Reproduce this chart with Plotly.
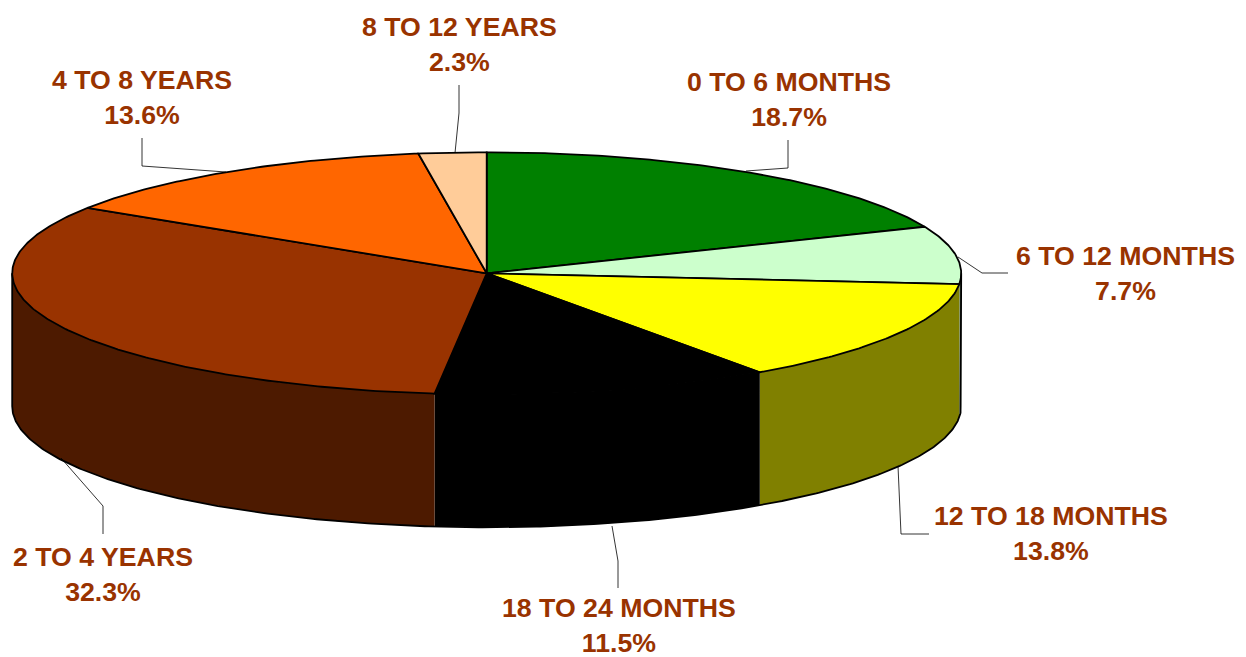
import math
import plotly.graph_objects as go

CATEGORIES = ["0 TO 6 MONTHS", "6 TO 12 MONTHS", "12 TO 18 MONTHS", "18 TO 24 MONTHS",
              "2 TO 4 YEARS", "4 TO 8 YEARS", "8 TO 12 YEARS"]
VALUES = [18.7, 7.7, 13.8, 11.5, 32.3, 13.6, 2.3]
TOP_COLORS = ["#008000", "#CCFFCC", "#FFFF00", "#000000", "#993300", "#FF6600", "#FFCC99"]
SIDE_COLORS = ["#004000", "#668066", "#808000", "#000000", "#4D1A00", "#803300", "#806633"]
LABEL_POS = [(789, 99.5), (1125.5, 273), (1051, 533), (619, 625), (102.5, 574.5), (142, 97), (459, 44)]
LEADERS = [
    [(746, 171), (788, 168), (788, 140)],
    [(958, 257), (982, 273), (1008, 273)],
    [(898, 466), (901, 534), (929, 534)],
    [(612, 526), (618, 561), (618, 588)],
    [(61, 458), (103, 506), (103, 534)],
    [(226, 172), (142, 166), (142, 138)],
    [(455, 153), (459, 113), (459, 85)],
]

CX, CY, RX, RY, DEPTH = 486.7, 273.3, 474.5, 121, 133
TEXT = "#993300"


def pt(deg, dy=0):
    a = math.radians(deg)
    return CX + RX * math.sin(a), CY - RY * math.cos(a) + dy


def arc(a0, a1, dy=0):
    n = max(2, int(abs(a1 - a0) * 2) + 1)
    return [pt(a0 + (a1 - a0) * i / (n - 1), dy) for i in range(n)]


total = sum(VALUES)
edges = [0.0]
for v in VALUES:
    edges.append(edges[-1] + v / total * 360)

fig = go.Figure()

# side walls (visible front half only)
for a0, a1, col in zip(edges[:-1], edges[1:], SIDE_COLORS):
    lo, hi = max(a0, 90), min(a1, 270)
    if hi <= lo:
        continue
    pts = arc(lo, hi) + arc(hi, lo, DEPTH)
    xs, ys = zip(*pts)
    fig.add_trace(go.Scatter(x=xs, y=ys, mode="lines", fill="toself", fillcolor=col,
                             line=dict(width=0, color=col), hoverinfo="skip"))

# wall outline
o = [pt(90)] + arc(90, 270, DEPTH) + [pt(270)]
fig.add_trace(go.Scatter(x=[p[0] for p in o], y=[p[1] for p in o], mode="lines",
                         line=dict(color="black", width=1.8), hoverinfo="skip"))

# top wedges
for a0, a1, col in zip(edges[:-1], edges[1:], TOP_COLORS):
    pts = [(CX, CY)] + arc(a0, a1) + [(CX, CY)]
    xs, ys = zip(*pts)
    fig.add_trace(go.Scatter(x=xs, y=ys, mode="lines", fill="toself", fillcolor=col,
                             line=dict(color="black", width=1.8), hoverinfo="skip"))

# leader lines
for seg in LEADERS:
    fig.add_trace(go.Scatter(x=[p[0] for p in seg], y=[p[1] for p in seg], mode="lines",
                             line=dict(color="black", width=0.8), hoverinfo="skip"))

# labels
for name, v, (x, y) in zip(CATEGORIES, VALUES, LABEL_POS):
    fig.add_annotation(x=x, y=y, text=f"<b>{name}<br>{v:.1f}%</b>", showarrow=False,
                       xref="x", yref="y", align="center",
                       font=dict(family="Liberation Sans", size=26.7, color=TEXT))

fig.update_layout(
    width=1246, height=657, autosize=False, showlegend=False,
    margin=dict(l=0, r=0, t=0, b=0),
    paper_bgcolor="white", plot_bgcolor="white",
    xaxis=dict(range=[0, 1246], visible=False, fixedrange=True),
    yaxis=dict(range=[657, 0], visible=False, fixedrange=True),
)
fig.write_html("out.html", config={"displayModeBar": False},
               post_script="document.body.style.margin='0';document.body.style.overflow='hidden';")
